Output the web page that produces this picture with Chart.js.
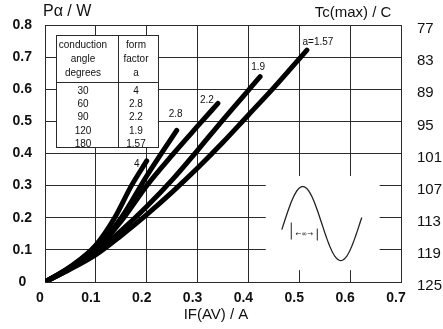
<!DOCTYPE html>
<html>
<head>
<meta charset="utf-8">
<script src="https://cdn.jsdelivr.net/npm/chart.js@4.4.0/dist/chart.umd.min.js"></script>
<style>
  html, body { margin: 0; padding: 0; background: #fff; }
  #wrap { width: 443px; height: 329px; }
</style>
</head>
<body>
<div id="wrap"><canvas id="lossChart" width="443" height="329"></canvas></div>
<script>
// form factor labels, one per curve
const curveLabels = ["4", "2.8", "2.2", "1.9", "a=1.57"];

// IF(AV) / A  and  P / W, one pair of arrays per curve
const ifA4   = [0, 0.05, 0.10, 0.137, 0.17, 0.20];
const pW4    = [0, 0.048, 0.115, 0.20, 0.30, 0.377];
const ifA28  = [0, 0.05, 0.10, 0.15, 0.20, 0.259];
const pW28   = [0, 0.046, 0.105, 0.20, 0.33, 0.472];
const ifA22  = [0, 0.05, 0.10, 0.15, 0.20, 0.25, 0.30, 0.34];
const pW22   = [0, 0.045, 0.10, 0.19, 0.30, 0.395, 0.485, 0.556];
const ifA19  = [0, 0.05, 0.10, 0.15, 0.20, 0.25, 0.30, 0.35, 0.423];
const pW19   = [0, 0.042, 0.092, 0.16, 0.235, 0.318, 0.41, 0.505, 0.639];
const ifA157 = [0, 0.05, 0.10, 0.15, 0.20, 0.25, 0.30, 0.35, 0.40, 0.45, 0.515];
const pW157  = [0, 0.04, 0.085, 0.145, 0.21, 0.28, 0.355, 0.435, 0.52, 0.605, 0.722];

// table in the upper left corner
const angleDegrees = ["30", "60", "90", "120", "180"];
const formFactor   = ["4", "2.8", "2.2", "1.9", "1.57"];

// right axis Tc(max) / C tick labels
const tcTicks = [77, 83, 89, 95, 101, 107, 113, 119, 125];

const sans = "'Liberation Sans', Arial, sans-serif";
const ink = "#111";
const gridColor = "#2a2a2a";

function toPoints(xs, ys) {
  return xs.map((x, i) => ({ x: x, y: ys[i] }));
}

const seriesX = [ifA4, ifA28, ifA22, ifA19, ifA157];
const seriesY = [pW4, pW28, pW22, pW19, pW157];

// label offsets (px) from the end of each curve
const labelOffsets = [[-10, 3], [-1, -16], [-11, -3], [-2, -9], [11, -8]];

const datasets = seriesX.map((xs, i) => ({
  label: curveLabels[i],
  data: toPoints(xs, seriesY[i]),
  borderColor: "#000",
  borderWidth: 5,
  borderCapStyle: "round",
  borderJoinStyle: "round",
  pointRadius: 0,
  cubicInterpolationMode: "monotone",
  fill: false
}));

const whiteBg = {
  id: "whiteBg",
  beforeDraw(chart) {
    const ctx = chart.ctx;
    ctx.save();
    ctx.fillStyle = "#fff";
    ctx.fillRect(0, 0, chart.width, chart.height);
    ctx.restore();
  }
};

// table box and the empty area behind the waveform sketch
const overlays = {
  id: "overlays",
  beforeDatasetsDraw(chart) {
    const ctx = chart.ctx;
    const xs = chart.scales.x, ys = chart.scales.y;
    ctx.save();

    // cut-out behind the sine sketch
    ctx.fillStyle = "#fff";
    const cx1 = xs.getPixelForValue(0.434), cx2 = xs.getPixelForValue(0.658);
    const cy1 = ys.getPixelForValue(0.33), cy2 = ys.getPixelForValue(0.037);
    ctx.fillRect(cx1, cy1, cx2 - cx1, cy2 - cy1);

    // table
    const tl = xs.getPixelForValue(0.0216), tr = xs.getPixelForValue(0.222);
    const tt = ys.getPixelForValue(0.768), tb = ys.getPixelForValue(0.42);
    ctx.fillRect(tl, tt, tr - tl, tb - tt);
    ctx.strokeStyle = gridColor;
    ctx.lineWidth = 1;
    ctx.strokeRect(Math.round(tl) + 0.5, Math.round(tt) + 0.5, Math.round(tr - tl), Math.round(tb - tt));
    const midY = Math.round(tt + 47) + 0.5;
    const colX = Math.round(tl + 62) + 0.5;
    ctx.beginPath();
    ctx.moveTo(tl, midY); ctx.lineTo(tr, midY);
    ctx.moveTo(colX, tt); ctx.lineTo(colX, tb);
    ctx.stroke();

    ctx.fillStyle = ink;
    ctx.font = "10px " + sans;
    ctx.textAlign = "center";
    ctx.textBaseline = "middle";
    const c1 = tl + 27, c2 = tl + 80;
    ctx.fillText("conduction", c1, tt + 10);
    ctx.fillText("angle", c1, tt + 24);
    ctx.fillText("degrees", c1, tt + 38);
    ctx.fillText("form", c2, tt + 10);
    ctx.fillText("factor", c2, tt + 24);
    ctx.fillText("a", c2, tt + 38);
    angleDegrees.forEach((d, i) => {
      ctx.fillText(d, c1, tt + 56 + i * 13.2);
      ctx.fillText(formFactor[i], c2, tt + 56 + i * 13.2);
    });
    ctx.restore();
  },
  afterDatasetsDraw(chart) {
    const ctx = chart.ctx;
    const xs = chart.scales.x, ys = chart.scales.y;
    ctx.save();

    // form factor labels at curve ends
    ctx.fillStyle = ink;
    ctx.font = "10px " + sans;
    ctx.textAlign = "center";
    ctx.textBaseline = "middle";
    seriesX.forEach((xArr, i) => {
      const yArr = seriesY[i];
      const px = xs.getPixelForValue(xArr[xArr.length - 1]);
      const py = ys.getPixelForValue(yArr[yArr.length - 1]);
      ctx.fillText(curveLabels[i], px + labelOffsets[i][0], py + labelOffsets[i][1]);
    });

    // waveform sketch
    const x0 = xs.getPixelForValue(0.4695);
    const yc = ys.getPixelForValue(0.182);
    const period = 76, amp = 37;
    ctx.strokeStyle = "#222";
    ctx.lineWidth = 1.3;
    ctx.beginPath();
    for (let t = -2; t <= 78; t++) {
      const px = x0 + t, py = yc - amp * Math.sin(2 * Math.PI * t / period);
      if (t === -2) ctx.moveTo(px, py); else ctx.lineTo(px, py);
    }
    ctx.stroke();

    // conduction angle marker
    ctx.lineWidth = 1;
    ctx.beginPath();
    ctx.moveTo(x0 + 7.5, yc - 1); ctx.lineTo(x0 + 7.5, yc + 16);
    ctx.moveTo(x0 + 33.5, yc + 5); ctx.lineTo(x0 + 33.5, yc + 17);
    ctx.stroke();
    ctx.font = "7px 'DejaVu Sans', sans-serif";
    ctx.fillText("\u2190\u221e\u2192", x0 + 20.5, yc + 11);

    ctx.restore();
  }
};

// axis titles
const titles = {
  id: "titles",
  afterDraw(chart) {
    const ctx = chart.ctx;
    const a = chart.chartArea;
    ctx.save();
    ctx.fillStyle = ink;
    ctx.textBaseline = "middle";
    ctx.textAlign = "left";
    ctx.font = "16px " + sans;
    ctx.fillText("P\u03b1 / W", a.left - 2, 12);
    ctx.font = "15px " + sans;
    ctx.textAlign = "center";
    ctx.fillText("Tc(max) / C", a.right - 48, 13);
    ctx.fillText("IF(AV) / A", (a.left + a.right) / 2 - 7, 315);
    ctx.restore();
  }
};

function fmt(v) {
  return Math.abs(v) < 1e-9 ? "0" : v.toFixed(1);
}

new Chart(document.getElementById("lossChart"), {
  type: "line",
  data: { datasets: datasets },
  options: {
    responsive: false,
    animation: false,
    layout: { padding: { top: 23, left: 0, right: 0, bottom: 0 } },
    plugins: {
      legend: { display: false },
      tooltip: { enabled: false }
    },
    scales: {
      x: {
        type: "linear",
        min: 0, max: 0.7,
        ticks: {
          stepSize: 0.1,
          color: ink,
          font: { family: sans, size: 14, weight: "bold" },
          padding: 8,
          labelOffset: -5,
          callback: fmt
        },
        grid: { color: gridColor, lineWidth: 1, drawTicks: false },
        border: { color: gridColor },
        afterFit(s) { s.height = 47; }
      },
      y: {
        position: "left",
        min: 0, max: 0.8,
        ticks: {
          stepSize: 0.1,
          color: ink,
          font: { family: sans, size: 14, weight: "bold" },
          padding: 13,
          crossAlign: "center",
          callback: fmt
        },
        grid: { color: gridColor, lineWidth: 1, drawTicks: false },
        border: { color: gridColor },
        afterFit(s) { s.width = 45; }
      },
      y2: {
        position: "right",
        reverse: true,
        min: tcTicks[0], max: tcTicks[tcTicks.length - 1],
        afterBuildTicks(s) { s.ticks = tcTicks.map(v => ({ value: v })); },
        ticks: {
          color: ink,
          font: { family: sans, size: 15 },
          padding: 16,
          labelOffset: 4
        },
        grid: { display: false, drawTicks: false },
        border: { display: false },
        afterFit(s) { s.width = 42; }
      }
    }
  },
  plugins: [whiteBg, overlays, titles]
});
</script>
</body>
</html>
